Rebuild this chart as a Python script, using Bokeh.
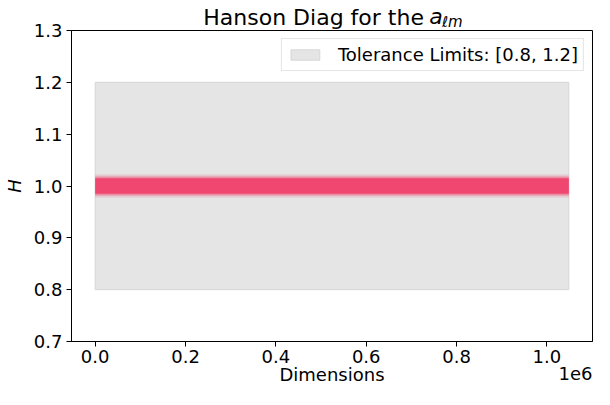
from bokeh.plotting import figure
from bokeh.models import FixedTicker, Legend, LegendItem, ColumnDataSource, Range1d, LinearAxis
from bokeh.embed import file_html
from bokeh.resources import INLINE

# ---- data ----
n_dims = 1048576
tol_low, tol_high = 0.8, 1.2
x_ticks = [0, 200000, 400000, 600000, 800000, 1000000]
x_tick_labels = ["0.0", "0.2", "0.4", "0.6", "0.8", "1.0"]
y_ticks = [0.7, 0.8, 0.9, 1.0, 1.1, 1.2, 1.3]
y_tick_labels = ["0.7", "0.8", "0.9", "1.0", "1.1", "1.2", "1.3"]

# envelope of the H scatter band
env_x = [0, 100000, 200000, 300000, 400000, 500000, 600000, 700000, 800000, 900000, 1000000, 1048576]
core_hi = [1.015, 1.015, 1.015, 1.015, 1.015, 1.015, 1.015, 1.015, 1.015, 1.015, 1.015, 1.015]
core_lo = [0.985, 0.985, 0.985, 0.985, 0.985, 0.985, 0.985, 0.985, 0.985, 0.985, 0.985, 0.985]
mid_hi = [1.0185, 1.0185, 1.0185, 1.0185, 1.0185, 1.0185, 1.0185, 1.0185, 1.0185, 1.0185, 1.0185, 1.0185]
mid_lo = [0.9815, 0.9815, 0.9815, 0.9815, 0.9815, 0.9815, 0.9815, 0.9815, 0.9815, 0.9815, 0.9815, 0.9815]
out_hi = [1.022, 1.022, 1.022, 1.022, 1.022, 1.022, 1.022, 1.022, 1.022, 1.022, 1.022, 1.022]
out_lo = [0.978, 0.978, 0.978, 0.978, 0.978, 0.978, 0.978, 0.978, 0.978, 0.978, 0.978, 0.978]

title_main = "Hanson Diag for the"
title_sym = "a"
title_sub = "ℓm"
x_label = "Dimensions"
y_label = "H"
x_offset_text = "1e6"
legend_label = "Tolerance Limits: [0.8, 1.2]"

FONT = "DejaVu Sans"
RED = "#EF476F"

W, H = 594, 389
FL, FR = 68, 592          # frame left / right in pixels
x0, x1 = -0.05 * n_dims, 1.05 * n_dims
px_x = (x1 - x0) / (FR - FL)

def xpos(px):
    return int(round(x0 + (px - FL) * px_x))

p = figure(width=W, height=H, output_backend="svg", toolbar_location=None,
           x_range=Range1d(x0, x1), y_range=Range1d(0.7, 1.3),
           min_border_left=FL, min_border_right=W - FR, min_border_top=30, min_border_bottom=48)
p.title.visible = False
p.grid.visible = False
p.outline_line_color = "black"
p.outline_line_alpha = 1
p.outline_line_width = 1
p.background_fill_color = "white"
p.border_fill_color = "white"

band = p.quad(left=[0], right=[n_dims], bottom=[tol_low], top=[tol_high],
              fill_color="#e5e5e5", line_color="#d6d6d6", line_width=1)

src = ColumnDataSource(dict(x=env_x, ch=core_hi, cl=core_lo, mh=mid_hi, ml=mid_lo, oh=out_hi, ol=out_lo))
p.varea(x="x", y1="ol", y2="oh", source=src, fill_color=RED, fill_alpha=0.18)
p.varea(x="x", y1="ml", y2="mh", source=src, fill_color=RED, fill_alpha=0.45)
p.varea(x="x", y1="cl", y2="ch", source=src, fill_color=RED, fill_alpha=1.0)

for ax in (p.xaxis[0], p.yaxis[0]):
    ax.major_tick_out = 5
    ax.major_tick_in = 0
    ax.minor_tick_out = 0
    ax.minor_tick_in = 0
    ax.major_label_text_font = FONT
    ax.major_label_text_font_size = "18px"
    ax.major_label_text_color = "black"
    ax.axis_label_text_font = FONT
    ax.axis_label_text_font_size = "18px"
    ax.axis_label_text_color = "black"
    ax.axis_line_color = "black"
    ax.major_tick_line_color = "black"

p.xaxis.ticker = FixedTicker(ticks=x_ticks)
p.xaxis.major_label_overrides = {t: l for t, l in zip(x_ticks, x_tick_labels)}
p.xaxis.major_label_standoff = 3
p.xaxis.axis_label = x_label
p.xaxis.axis_label_standoff = -2
p.xaxis.axis_label_text_font_style = "normal"

p.yaxis.ticker = FixedTicker(ticks=y_ticks)
p.yaxis.major_label_overrides = {t: l for t, l in zip(y_ticks, y_tick_labels)}
p.yaxis.major_label_standoff = 4
p.yaxis.axis_label = y_label
p.yaxis.axis_label_standoff = 6
p.yaxis.axis_label_text_font_style = "italic"


def text_axis(side, px, text, size, style, standoff):
    """A bare axis whose single tick label carries a piece of text."""
    t = xpos(px)
    ax = LinearAxis(ticker=FixedTicker(ticks=[t]), major_label_overrides={t: text},
                    axis_line_color=None, major_tick_line_color=None, minor_tick_line_color=None,
                    major_tick_out=0, major_tick_in=0, minor_tick_out=0, minor_tick_in=0,
                    major_label_standoff=standoff, major_label_text_font=FONT,
                    major_label_text_font_size=size, major_label_text_font_style=style,
                    major_label_text_color="black")
    p.add_layout(ax, side)
    return ax

# title: upright text, italic "a" and smaller italic subscript on one line
h22 = 26
text_axis("above", 311.5, title_main, "22px", "normal", 1)
text_axis("above", 434.5, title_sym, "22px", "italic", -h22 - 1)
text_axis("above", 451, title_sub, "15px", "italic", -h22 - 4)
# offset text "1e6" on the same line as the x axis label
text_axis("below", 575, x_offset_text, "18px", "normal", -21)

legend = Legend(items=[LegendItem(label=legend_label, renderers=[band])],
                location="top_right", margin=8, padding=5, spacing=0,
                glyph_width=36, glyph_height=13, label_standoff=15,
                label_text_font=FONT, label_text_font_size="18px", label_text_color="black",
                border_line_color="#cccccc", border_line_width=1,
                background_fill_alpha=0.8)
p.add_layout(legend)

open("out.html", "w").write(file_html(p, INLINE))
